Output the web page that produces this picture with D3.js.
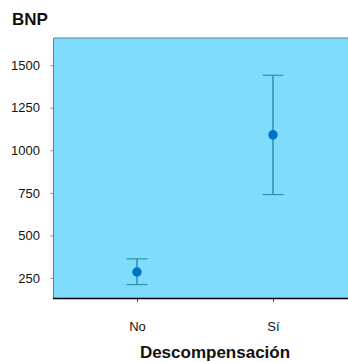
<!DOCTYPE html>
<html><head><meta charset="utf-8">
<script src="https://cdn.jsdelivr.net/npm/d3@7"></script>
<style>body{margin:0;background:#fff}svg{display:block}text{font-family:"Liberation Sans",Arial,sans-serif}</style>
</head><body>
<script>
const categories = ["No", "Sí"];
const means = [285, 1091];
const lower = [211, 740];
const upper = [362, 1441];
const yTicks = [250, 500, 750, 1000, 1250, 1500];

const W = 348, H = 362;
const m = {left: 54, top: 38, right: 0, bottom: 64};
const svg = d3.select("body").append("svg").attr("width", W).attr("height", H);

const y = d3.scaleLinear().domain([132, 1660]).range([H - m.bottom, m.top]);
const x = d3.scalePoint().domain(categories).range([137, 273]);

svg.append("rect").attr("x", m.left).attr("y", m.top)
  .attr("width", W - m.left - m.right).attr("height", H - m.bottom - m.top)
  .attr("fill", "#80dcfd");
svg.append("line").attr("x1", m.left).attr("x2", W).attr("y1", m.top).attr("y2", m.top)
  .attr("stroke", "#4a8a9a").attr("stroke-width", 1);

const ya = svg.append("g").attr("transform", `translate(${m.left},0)`)
  .call(d3.axisLeft(y).tickValues(yTicks).tickSize(4).tickPadding(10).tickFormat(d3.format("d")));
ya.select(".domain").remove();
ya.selectAll(".tick line").attr("stroke", "#999");
ya.selectAll(".tick text").attr("font-size", 13).attr("fill", "#111").attr("font-family", "Liberation Sans, Arial, sans-serif");
svg.append("line").attr("x1", m.left - 0.5).attr("x2", m.left - 0.5).attr("y1", m.top).attr("y2", H - m.bottom)
  .attr("stroke", "#777").attr("stroke-width", 1);

const xa = svg.append("g").attr("transform", `translate(0,${H - m.bottom})`)
  .call(d3.axisBottom(x).tickSize(4).tickPadding(20));
xa.select(".domain").remove();
xa.selectAll(".tick line").attr("stroke", "#555");
xa.selectAll(".tick text").attr("font-size", 13).attr("fill", "#111").attr("font-family", "Liberation Sans, Arial, sans-serif");
svg.append("line").attr("x1", m.left - 1).attr("x2", W).attr("y1", H - m.bottom + 0.5).attr("y2", H - m.bottom + 0.5)
  .attr("stroke", "#000").attr("stroke-width", 1.5);

const g = svg.append("g");
categories.forEach((c, i) => {
  const cx = x(c);
  g.append("line").attr("x1", cx).attr("x2", cx).attr("y1", y(upper[i])).attr("y2", y(lower[i]))
    .attr("stroke", "#1a7f8f").attr("stroke-width", 1.2);
  [upper[i], lower[i]].forEach(v => {
    g.append("line").attr("x1", cx - 10.5).attr("x2", cx + 10.5).attr("y1", y(v)).attr("y2", y(v))
      .attr("stroke", "#2a98a6").attr("stroke-width", 1.2);
  });
  g.append("circle").attr("cx", cx).attr("cy", y(means[i])).attr("r", 4.7).attr("fill", "#0070c9");
});

svg.append("text").attr("x", 12).attr("y", 25).attr("font-size", 17).attr("font-weight", "bold").attr("fill", "#111").text("BNP");
svg.append("text").attr("x", 215).attr("y", 358).attr("text-anchor", "middle").attr("font-size", 17)
  .attr("font-weight", "bold").attr("fill", "#111").text("Descompensación");
</script>
</body></html>
